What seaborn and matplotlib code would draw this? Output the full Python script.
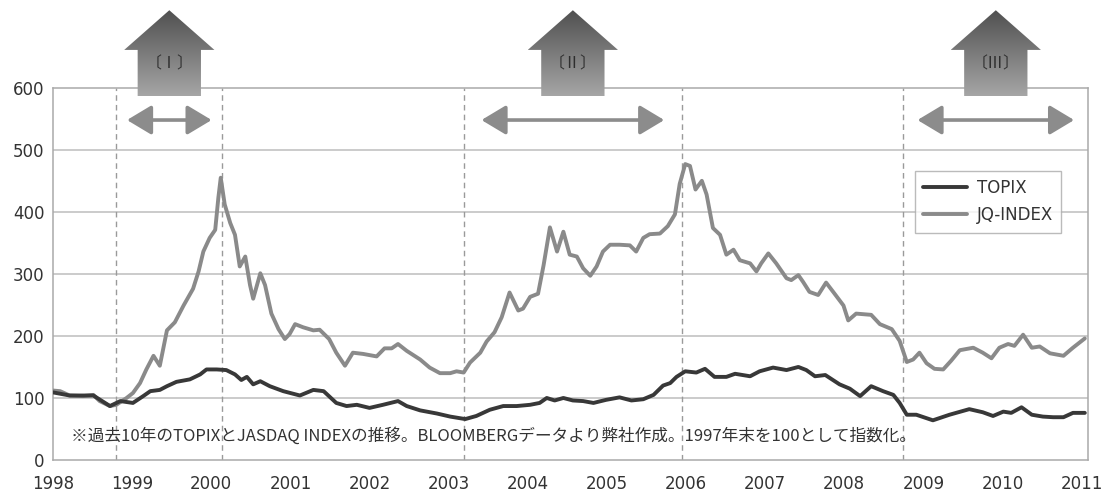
import numpy as np
import pandas as pd
import matplotlib
matplotlib.use("Agg")
import matplotlib.pyplot as plt
from matplotlib.patches import Polygon, FancyArrowPatch
from matplotlib.colors import LinearSegmentedColormap
import seaborn as sns

# TOPIX (1997 year-end = 100)
topix_t = [1998.00, 1998.21, 1998.51, 1998.72, 1998.85, 1999.01, 1999.14, 1999.23, 1999.35, 1999.44,
           1999.56, 1999.73, 1999.86, 1999.94, 2000.07, 2000.19, 2000.30, 2000.38, 2000.45, 2000.53,
           2000.62, 2000.74, 2000.91, 2001.12, 2001.29, 2001.42, 2001.58, 2001.71, 2001.84, 2002.00,
           2002.17, 2002.36, 2002.47, 2002.64, 2002.85, 2003.02, 2003.21, 2003.35, 2003.52, 2003.69,
           2003.86, 2004.03, 2004.15, 2004.24, 2004.34, 2004.45, 2004.57, 2004.70, 2004.83, 2004.99,
           2005.16, 2005.31, 2005.46, 2005.59, 2005.71, 2005.80, 2005.88, 2005.99, 2006.13, 2006.24,
           2006.36, 2006.51, 2006.62, 2006.81, 2006.93, 2007.10, 2007.27, 2007.42, 2007.52, 2007.63,
           2007.76, 2007.94, 2008.07, 2008.20, 2008.34, 2008.49, 2008.62, 2008.70, 2008.79, 2008.91,
           2009.12, 2009.33, 2009.58, 2009.75, 2009.88, 2010.01, 2010.11, 2010.24, 2010.37, 2010.51,
           2010.64, 2010.77, 2010.89, 2011.04]
topix_v = [109, 104, 104, 87, 95, 92, 103, 111, 113, 119,
           126, 130, 138, 146, 146, 145, 138, 129, 134, 122,
           127, 119, 111, 104, 113, 111, 92, 87, 89, 84,
           89, 95, 87, 80, 75, 70, 66, 71, 81, 87,
           87, 89, 92, 100, 96, 100, 96, 95, 92, 97,
           101, 96, 98, 105, 120, 124, 134, 143, 141, 147,
           134, 134, 139, 135, 143, 149, 145, 150, 145, 135,
           137, 122, 115, 103, 119, 111, 105, 92, 73, 73,
           64, 73, 82, 77, 71, 78, 76, 85, 73, 70,
           69, 69, 76, 76]

# JQ-INDEX (JASDAQ, 1997 year-end = 100)
jq_t = [1998.00, 1998.09, 1998.21, 1998.38, 1998.51, 1998.59, 1998.72, 1998.80, 1998.93, 1999.01,
        1999.10, 1999.18, 1999.27, 1999.35, 1999.44, 1999.54, 1999.65, 1999.77, 1999.84, 1999.90,
        1999.98, 2000.05, 2000.09, 2000.12, 2000.17, 2000.24, 2000.30, 2000.36, 2000.43, 2000.49,
        2000.53, 2000.62, 2000.68, 2000.76, 2000.85, 2000.93, 2000.99, 2001.06, 2001.16, 2001.29,
        2001.37, 2001.49, 2001.58, 2001.69, 2001.79, 2001.92, 2002.09, 2002.19, 2002.28, 2002.36,
        2002.47, 2002.64, 2002.76, 2002.89, 2003.02, 2003.10, 2003.19, 2003.27, 2003.40, 2003.48,
        2003.58, 2003.67, 2003.77, 2003.88, 2003.94, 2004.03, 2004.13, 2004.20, 2004.28, 2004.37,
        2004.45, 2004.53, 2004.62, 2004.70, 2004.79, 2004.87, 2004.95, 2005.04, 2005.16, 2005.29,
        2005.37, 2005.46, 2005.54, 2005.67, 2005.77, 2005.86, 2005.92, 2005.99, 2006.05, 2006.12,
        2006.20, 2006.26, 2006.34, 2006.43, 2006.51, 2006.60, 2006.68, 2006.81, 2006.89, 2006.95,
        2007.04, 2007.14, 2007.27, 2007.33, 2007.42, 2007.48, 2007.56, 2007.67, 2007.77, 2007.86,
        2007.99, 2008.05, 2008.15, 2008.34, 2008.45, 2008.60, 2008.70, 2008.79, 2008.87, 2008.95,
        2009.04, 2009.14, 2009.25, 2009.35, 2009.46, 2009.63, 2009.75, 2009.86, 2009.96, 2010.07,
        2010.15, 2010.26, 2010.37, 2010.47, 2010.60, 2010.77, 2010.89, 2011.04]
jq_v = [112, 111, 104, 103, 105, 95, 87, 89, 100, 108,
        124, 146, 168, 152, 209, 222, 249, 276, 304, 336,
        358, 371, 423, 455, 412, 382, 363, 312, 328, 282,
        260, 301, 282, 236, 211, 195, 203, 219, 214, 209,
        210, 195, 173, 152, 173, 171, 167, 180, 180, 187,
        176, 162, 149, 140, 140, 143, 141, 157, 173, 191,
        206, 230, 270, 241, 244, 263, 268, 314, 375, 336,
        368, 331, 328, 309, 297, 312, 336, 347, 347, 346,
        336, 358, 364, 365, 377, 396, 445, 477, 474, 436,
        450, 428, 374, 363, 331, 339, 322, 317, 304, 317,
        333, 317, 293, 290, 298, 287, 271, 266, 286, 271,
        249, 225, 236, 234, 219, 211, 192, 158, 162, 173,
        156, 147, 146, 160, 177, 181, 173, 164, 181, 187,
        184, 202, 181, 183, 172, 168, 181, 196]

year_ticks = list(range(1998, 2012))
value_ticks = [0, 100, 200, 300, 400, 500, 600]
phase_marks = [1998.80, 2000.14, 2003.19, 2005.95, 2008.74]
phase_labels = ['〔Ⅰ〕', '〔Ⅱ〕', '〔Ⅲ〕']
phase_spans = [(1998.90, 2000.04), (2003.38, 2005.76), (2008.89, 2010.94)]
note = '※過去10年のTOPIXとJASDAQ INDEXの推移。BLOOMBERGデータより弊社作成。1997年末を100として指数化。'

topix = pd.DataFrame({'year': topix_t, 'value': topix_v})
jq = pd.DataFrame({'year': jq_t, 'value': jq_v})

sns.set_style('white')
plt.rcParams['font.family'] = ['DejaVu Sans', 'Noto Sans CJK JP']
jp_font = ['Noto Sans CJK JP', 'DejaVu Sans']

fig = plt.figure(figsize=(11.04, 4.97), dpi=100)
ax = fig.add_axes([0.048, 0.0744, 0.9375, 0.749])

# grid + phase separators
for v in value_ticks[1:-1]:
    ax.axhline(v, color='#bdbdbd', lw=1.1, zorder=1)
for x in phase_marks:
    ax.axvline(x, color='#9a9a9a', lw=1.0, ls=(0, (4, 3)), zorder=1)

sns.lineplot(data=topix, x='year', y='value', ax=ax, color='#383838', lw=2.8,
             label='TOPIX', zorder=4)
sns.lineplot(data=jq, x='year', y='value', ax=ax, color='#8a8a8a', lw=2.8,
             label='JQ-INDEX', zorder=3)

# double-headed arrows marking each phase
for x0, x1 in phase_spans:
    arr = FancyArrowPatch((x0, 548), (x1, 548), arrowstyle='<|-|>,head_length=0.75,head_width=0.45',
                          mutation_scale=20, color='#8c8c8c', lw=2.6, zorder=5)
    ax.add_patch(arr)

# gradient "house" arrows above the plot
cmap = LinearSegmentedColormap.from_list('house', ['#4f4f4f', '#a6a6a6'])
grad = np.linspace(0, 1, 256).reshape(-1, 1)
for (x0, x1), lab in zip(phase_spans, phase_labels):
    cx = (x0 + x1) / 2
    bw, sw = 0.40, 0.57
    y0, ys, yt = 586, 661, 725
    verts = [(cx - bw, y0), (cx + bw, y0), (cx + bw, ys), (cx + sw, ys),
             (cx, yt), (cx - sw, ys), (cx - bw, ys)]
    poly = Polygon(verts, closed=True, facecolor='none', edgecolor='none',
                   transform=ax.transData, clip_on=False)
    ax.add_patch(poly)
    im = ax.imshow(grad, extent=[cx - sw, cx + sw, y0, yt], cmap=cmap,
                   aspect='auto', interpolation='bilinear', zorder=6)
    im.set_clip_path(poly)
    im.set_clip_box(fig.bbox)
    ax.text(cx, 638, lab, ha='center', va='center', fontsize=11.5, color='#2e2e2e',
            family=jp_font, zorder=7, clip_on=False)

ax.text(1998.23, 38, note, ha='left', va='center', fontsize=12, color='#333333',
        family=jp_font, zorder=5)

ax.set_xlim(1998, 2011.08)
ax.set_ylim(0, 600)
ax.set_xticks(year_ticks)
ax.set_yticks(value_ticks)
ax.set_xlabel('')
ax.set_ylabel('')
ax.tick_params(axis='x', direction='in', length=4, color='#9a9a9a', labelsize=12,
               labelcolor='#333333', pad=11)
ax.tick_params(axis='y', direction='in', length=4, color='#9a9a9a', labelsize=12,
               labelcolor='#333333', pad=6)
for s in ax.spines.values():
    s.set_color('#aaaaaa')
    s.set_linewidth(1.1)

leg = ax.legend(loc='upper left', bbox_to_anchor=(0.833, 0.777), borderaxespad=0,
                frameon=True, fancybox=False, edgecolor='#aaaaaa', fontsize=12,
                handlelength=2.6, handletextpad=0.6, borderpad=0.5, labelspacing=0.55)
leg.get_frame().set_linewidth(1.0)
for t in leg.get_texts():
    t.set_color('#333333')

fig.savefig('out.png', dpi=100)
